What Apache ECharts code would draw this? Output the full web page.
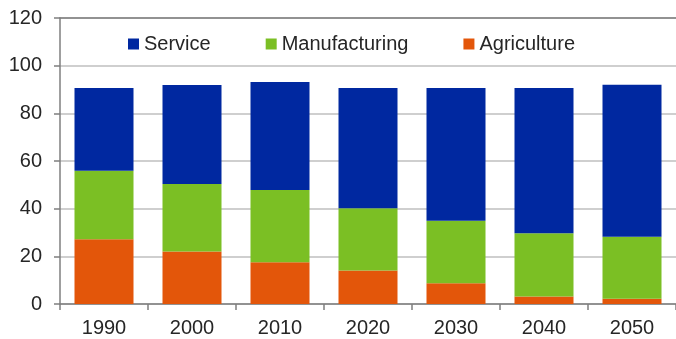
<!DOCTYPE html>
<html>
<head>
<meta charset="utf-8">
<script src="https://cdn.jsdelivr.net/npm/echarts@6/dist/echarts.min.js"></script>
<style>
  html, body { margin: 0; padding: 0; background: #fff; }
  #chart { width: 676px; height: 339px; }
</style>
</head>
<body>
<div id="chart"></div>
<script>
// Employment share by sector (%), stacked per decade
const years = ['1990', '2000', '2010', '2020', '2030', '2040', '2050'];
const agriculture = [27.2, 22.0, 17.5, 14.1, 8.7, 3.1, 2.2];
const manufacturing = [28.7, 28.4, 30.3, 26.1, 26.2, 26.6, 26.0];
const service = [34.7, 41.5, 45.3, 50.4, 55.7, 60.9, 63.8];
const legendOrder = ['Service', 'Manufacturing', 'Agriculture'];

const colors = {
  Service: '#0028A0',
  Manufacturing: '#7BBF24',
  Agriculture: '#E3560A'
};

const textColor = '#262626';
const axisColor = '#7f7f7f';
const fontFamily = '"Liberation Sans", Arial, sans-serif';

function barSeries(name, values) {
  return {
    name: name,
    type: 'bar',
    stack: 'total',
    barWidth: 59,
    data: values,
    itemStyle: { color: colors[name] }
  };
}

const chart = echarts.init(document.getElementById('chart'), null, { renderer: 'canvas' });
chart.setOption({
  animation: false,
  textStyle: { fontFamily: fontFamily },
  grid: { left: 60, right: -5, top: 18, bottom: 35 },
  legend: {
    data: legendOrder,
    left: 123,
    top: 29,
    itemWidth: 11,
    itemHeight: 11,
    itemGap: 55,
    icon: 'rect',
    textStyle: { color: textColor, fontSize: 20, fontFamily: fontFamily }
  },
  xAxis: [
    {
      type: 'category',
      data: years,
      boundaryGap: true,
      axisLine: { lineStyle: { color: axisColor, width: 1.5 } },
      axisTick: { show: true, length: 6, lineStyle: { color: axisColor, width: 1.5 } },
      axisLabel: { color: textColor, fontSize: 20, margin: 14, fontFamily: fontFamily }
    },
    {
      type: 'category',
      data: years,
      position: 'top',
      axisLine: { lineStyle: { color: axisColor, width: 1.5 } },
      axisTick: { show: false },
      axisLabel: { show: false }
    }
  ],
  yAxis: {
    type: 'value',
    min: 0,
    max: 120,
    interval: 20,
    axisLine: { show: true, lineStyle: { color: axisColor, width: 1.5 } },
    axisTick: { show: true, length: 6, lineStyle: { color: axisColor, width: 1.5 } },
    axisLabel: { color: textColor, fontSize: 20, margin: 18, fontFamily: fontFamily },
    splitLine: { lineStyle: { color: '#bfbfbf', width: 1.5 } }
  },
  series: [
    barSeries('Agriculture', agriculture),
    barSeries('Manufacturing', manufacturing),
    barSeries('Service', service)
  ]
});
</script>
</body>
</html>
